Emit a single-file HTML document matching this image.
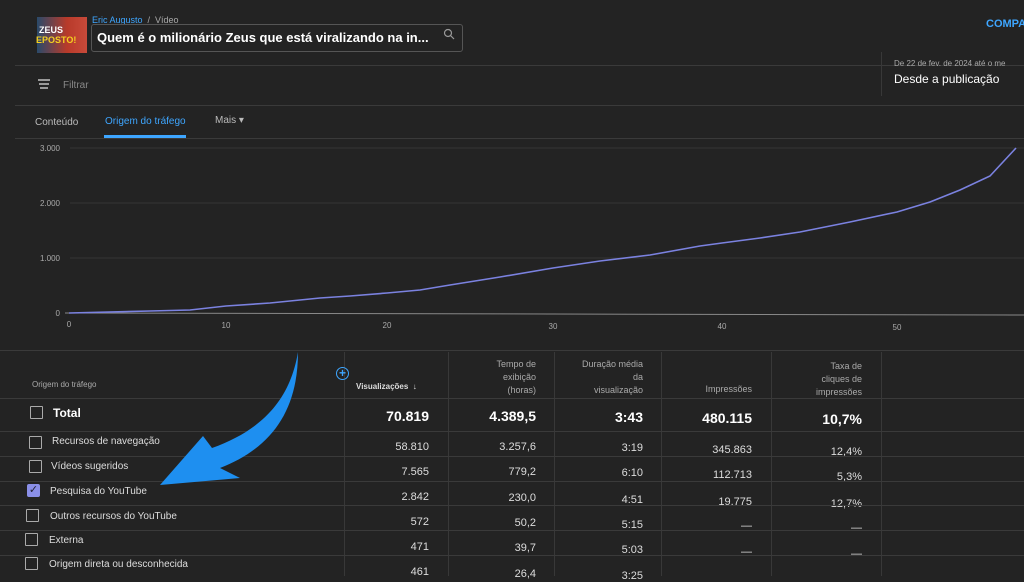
<!DOCTYPE html>
<html><head><meta charset="utf-8"><style>
body{margin:0;width:1024px;height:576px;background:#232323;overflow:hidden;font-family:"Liberation Sans",sans-serif;color:#e8e8e8;position:relative}
.a{position:absolute;white-space:nowrap}
.hl{position:absolute;height:1px;background:#3a3a3a}
.vl{position:absolute;width:1px;background:#383838}
.r{text-align:right}
.cb{position:absolute;width:11px;height:11px;border:1.5px solid #aaa;border-radius:1px}
.n{font-size:11px;color:#ddd}
.h{font-size:9px;color:#aaa;text-align:right;line-height:13px}
.b{font-size:14px;font-weight:bold;color:#fff}
</style></head><body>
<div class="a" style="left:37px;top:17px;width:50px;height:36px;background:linear-gradient(90deg,#2a4a6a,#b83a2a 60%,#c84a3a)"></div>
<div class="a" style="left:39px;top:25px;font-size:9px;font-weight:bold;color:#fff">ZEUS</div>
<div class="a" style="left:36px;top:35px;font-size:9px;font-weight:bold;color:#f5d020">EPOSTO!</div>
<div class="a" style="left:92px;top:15px;font-size:9px;color:#3ea6ff">Eric Augusto <span style="color:#aaa">&nbsp;/&nbsp; Vídeo</span></div>
<div class="a" style="left:91px;top:24px;width:370px;height:26px;border:1px solid #555;border-radius:3px"></div>
<div class="a" style="left:97px;top:30px;font-size:13px;font-weight:bold;color:#fff">Quem é o milionário Zeus que está viralizando na in...</div>
<svg class="a" style="left:443px;top:28px" width="12" height="12"><circle cx="5" cy="5" r="3.5" stroke="#999" fill="none" stroke-width="1.2"/><line x1="7.5" y1="7.5" x2="11" y2="11" stroke="#999" stroke-width="1.2"/></svg>
<div class="a" style="left:986px;top:18px;font-size:11px;font-weight:bold;color:#3ea6ff">COMPA</div>
<div class="hl" style="left:15px;top:65px;width:1009px"></div>
<div class="vl" style="left:881px;top:52px;height:44px"></div>
<div class="a" style="left:894px;top:59px;font-size:8px;color:#aaa">De 22 de fev. de 2024 até o me</div>
<div class="a" style="left:894px;top:72px;font-size:12px;color:#fff">Desde a publicação</div>
<div class="a" style="left:38px;top:79px;width:12px;height:1.5px;background:#999"></div>
<div class="a" style="left:39px;top:83px;width:10px;height:1.5px;background:#999"></div>
<div class="a" style="left:40px;top:87px;width:8px;height:1.5px;background:#999"></div>
<div class="a" style="left:63px;top:80px;font-size:10px;color:#888">Filtrar</div>
<div class="hl" style="left:15px;top:105px;width:1009px"></div>
<div class="a" style="left:35px;top:117px;font-size:10px;color:#bbb">Conteúdo</div>
<div class="a" style="left:105px;top:116px;font-size:10px;color:#3ea6ff">Origem do tráfego</div>
<div class="a" style="left:104px;top:135px;width:82px;height:3px;background:#3ea6ff"></div>
<div class="a" style="left:215px;top:115px;font-size:10px;color:#bbb">Mais ▾</div>
<div class="hl" style="left:15px;top:138px;width:1009px"></div>
<svg class="a" style="left:0;top:138px" width="1024" height="200">
<g stroke="#353535" stroke-width="1"><line x1="70" y1="10" x2="1024" y2="10"/><line x1="70" y1="65" x2="1024" y2="65"/><line x1="70" y1="120" x2="1024" y2="120"/></g>
<line x1="65" y1="175" x2="1024" y2="177" stroke="#888" stroke-width="1"/>
<g font-size="8" fill="#aaa" font-family="Liberation Sans"><text x="60" y="13" text-anchor="end">3.000</text><text x="60" y="68" text-anchor="end">2.000</text><text x="60" y="123" text-anchor="end">1.000</text><text x="60" y="178" text-anchor="end">0</text>
<text x="69" y="189" text-anchor="middle">0</text><text x="226" y="190" text-anchor="middle">10</text><text x="387" y="190" text-anchor="middle">20</text><text x="553" y="191" text-anchor="middle">30</text><text x="722" y="191" text-anchor="middle">40</text><text x="897" y="192" text-anchor="middle">50</text></g>
<path d="M69,175 L150,173 L190,172 L226,168 L270,165 L320,160 L350,158 L387,155 L420,152 L450,147 L500,139 L553,130 L600,123 L650,117 L700,108 L722,105 L760,100 L800,94 L850,84 L897,74 L930,64 L960,52 L990,38 L1016,10" fill="none" stroke="#7b82e0" stroke-width="1.6"/>
</svg>
<div class="hl" style="left:0;top:350px;width:1024px"></div>
<div class="vl" style="left:344px;top:352px;height:224px"></div>
<div class="vl" style="left:448px;top:352px;height:224px"></div>
<div class="vl" style="left:554px;top:352px;height:224px"></div>
<div class="vl" style="left:661px;top:352px;height:224px"></div>
<div class="vl" style="left:771px;top:352px;height:224px"></div>
<div class="vl" style="left:881px;top:352px;height:224px"></div>
<div class="a" style="left:32px;top:380px;font-size:8px;color:#aaa">Origem do tráfego</div>
<div class="a" style="left:336px;top:367px;width:11px;height:11px;border:1.5px solid #3ea6ff;border-radius:50%;color:#3ea6ff;font-size:12px;line-height:11px;text-align:center;font-weight:bold">+</div>
<div class="a" style="left:356px;top:382px;font-size:8px;font-weight:bold;color:#ddd">Visualizações &nbsp;↓</div>
<div class="a h" style="left:450px;top:358px;width:86px">Tempo de<br>exibição<br>(horas)</div>
<div class="a h" style="left:556px;top:358px;width:87px">Duração média<br>da<br>visualização</div>
<div class="a h" style="left:663px;top:383px;width:89px">Impressões</div>
<div class="a h" style="left:773px;top:360px;width:89px">Taxa de<br>cliques de<br>impressões</div>
<div class="hl" style="left:0;top:398px;width:1024px"></div>
<div class="cb" style="left:30px;top:406px"></div>
<div class="a b" style="left:53px;top:406px;font-size:12px">Total</div>
<div class="a b r" style="left:340px;top:408px;width:89px">70.819</div>
<div class="a b r" style="left:450px;top:408px;width:86px">4.389,5</div>
<div class="a b r" style="left:556px;top:409px;width:87px">3:43</div>
<div class="a b r" style="left:663px;top:410px;width:89px">480.115</div>
<div class="a b r" style="left:773px;top:411px;width:89px">10,7%</div>
<div class="hl" style="left:0;top:431px;width:1024px"></div>
<div class="cb" style="left:29px;top:436px"></div><div class="a n" style="left:52px;top:436px;font-size:10px">Recursos de navegação</div>
<div class="a n r" style="left:340px;top:441px;width:89px">58.810</div><div class="a n r" style="left:450px;top:441px;width:86px">3.257,6</div><div class="a n r" style="left:556px;top:442px;width:87px">3:19</div><div class="a n r" style="left:663px;top:444px;width:89px">345.863</div><div class="a n r" style="left:773px;top:446px;width:89px">12,4%</div>
<div class="hl" style="left:0;top:456px;width:1024px"></div>
<div class="cb" style="left:29px;top:460px"></div><div class="a n" style="left:51px;top:461px;font-size:10px">Vídeos sugeridos</div>
<div class="a n r" style="left:340px;top:466px;width:89px">7.565</div><div class="a n r" style="left:450px;top:466px;width:86px">779,2</div><div class="a n r" style="left:556px;top:467px;width:87px">6:10</div><div class="a n r" style="left:663px;top:469px;width:89px">112.713</div><div class="a n r" style="left:773px;top:471px;width:89px">5,3%</div>
<div class="hl" style="left:0;top:481px;width:1024px"></div>
<div class="a" style="left:27px;top:484px;width:13px;height:13px;background:#8a8fe8;border-radius:2px;color:#223;font-size:11px;line-height:13px;text-align:center">✓</div><div class="a n" style="left:50px;top:486px;font-size:10px">Pesquisa do YouTube</div>
<div class="a n r" style="left:340px;top:491px;width:89px">2.842</div><div class="a n r" style="left:450px;top:492px;width:86px">230,0</div><div class="a n r" style="left:556px;top:494px;width:87px">4:51</div><div class="a n r" style="left:663px;top:496px;width:89px">19.775</div><div class="a n r" style="left:773px;top:498px;width:89px">12,7%</div>
<div class="hl" style="left:0;top:505px;width:1024px"></div>
<div class="cb" style="left:26px;top:509px"></div><div class="a n" style="left:50px;top:511px;font-size:10px">Outros recursos do YouTube</div>
<div class="a n r" style="left:340px;top:516px;width:89px">572</div><div class="a n r" style="left:450px;top:517px;width:86px">50,2</div><div class="a n r" style="left:556px;top:519px;width:87px">5:15</div><div class="a n r" style="left:663px;top:520px;width:89px">—</div><div class="a n r" style="left:773px;top:522px;width:89px">—</div>
<div class="hl" style="left:0;top:530px;width:1024px"></div>
<div class="cb" style="left:25px;top:533px"></div><div class="a n" style="left:49px;top:535px;font-size:10px">Externa</div>
<div class="a n r" style="left:340px;top:541px;width:89px">471</div><div class="a n r" style="left:450px;top:542px;width:86px">39,7</div><div class="a n r" style="left:556px;top:544px;width:87px">5:03</div><div class="a n r" style="left:663px;top:546px;width:89px">—</div><div class="a n r" style="left:773px;top:548px;width:89px">—</div>
<div class="hl" style="left:0;top:555px;width:1024px"></div>
<div class="cb" style="left:25px;top:557px"></div><div class="a n" style="left:49px;top:559px;font-size:10px">Origem direta ou desconhecida</div>
<div class="a n r" style="left:340px;top:566px;width:89px">461</div><div class="a n r" style="left:450px;top:568px;width:86px">26,4</div><div class="a n r" style="left:556px;top:570px;width:87px">3:25</div>
<svg class="a" style="left:0;top:0" width="1024" height="576">
<path d="M298,352 C290,400 262,430 212,448 L203,436 L160,485 L240,478 L220,468 C272,448 298,410 298,352 Z" fill="#1e8ff0"/>
</svg>
</body></html>
